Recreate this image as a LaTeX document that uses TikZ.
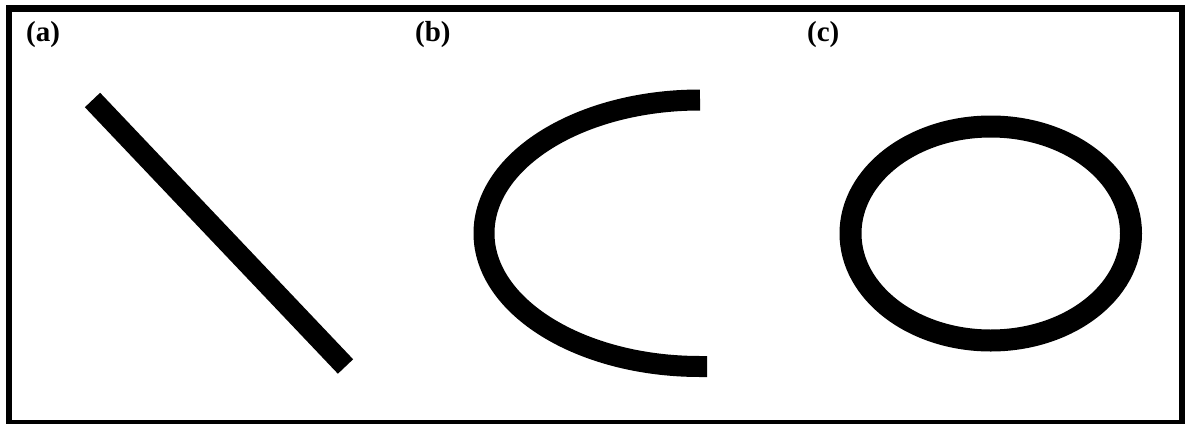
\documentclass[tikz,border=0pt]{standalone}
\usepackage{fontspec}
\setmainfont{Liberation Serif}
\begin{document}
\begin{tikzpicture}[x=1pt,y=-1pt,
  lbl/.style={anchor=base west,inner sep=0pt,font=\fontsize{29}{32}\selectfont\bfseries},
  stroke/.style={line width=21pt,line cap=butt}]
\useasboundingbox (0,0) rectangle (1185,423);
\begin{scope}
\clip (0,0) rectangle (1185,423);
\draw[line width=6.5pt] (9,8.5) rectangle (1182,423);
\end{scope}
\node[lbl] (la) at (26,41) {(a)};
\node[lbl] (lb) at (415,41) {(b)};
\node[lbl] (lc) at (807,41) {(c)};
% (a) straight bar
\coordinate (a1) at (92.5,100);
\coordinate (a2) at (345.5,366.5);
\draw[stroke] (a1) -- (a2);
% (b) half ellipse
\coordinate (b1) at (700,100);
\draw[stroke] (b1) arc[start angle=270,end angle=90,x radius=216,y radius=133.25] -- ++(7,0);
% (c) ellipse
\coordinate (c0) at (990.75,233.5);
\draw[line width=22pt] (c0) ellipse[x radius=140.25,y radius=107];
\end{tikzpicture}
\end{document}
